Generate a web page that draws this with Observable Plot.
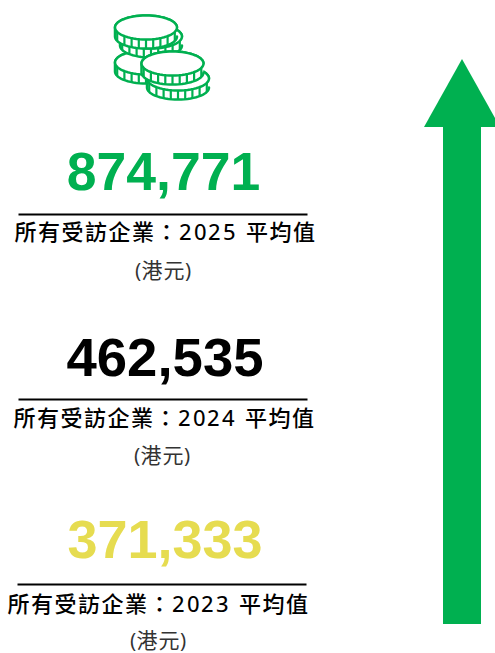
<!DOCTYPE html>
<html><head><meta charset="utf-8">
<script src="https://cdn.jsdelivr.net/npm/d3@7"></script>
<script src="https://cdn.jsdelivr.net/npm/@observablehq/plot@0.6"></script>
<style>html,body{margin:0;padding:0;background:#fff}svg{display:block}
@font-face{font-family:Digits;src:local("Open Sans");unicode-range:U+28-29,U+30-39,U+20}
@font-face{font-family:DigitsSemi;src:local("Open Sans SemiBold"),local("Open Sans Semibold"),local("OpenSans-SemiBold"),local("Open Sans Medium");unicode-range:U+30-39,U+20}</style>
</head><body><div id="c"></div><script>
const years = [2025, 2024, 2023];
const averages = [874771, 462535, 371333];
const yearColors = ["#00B050", "#000000", "#E6DC50"];
const labelPrefix = "所有受訪企業：";
const labelSuffix = " 平均值";
const unit = "(港元)";

// layout of the three panels, on a page-sized scale
const numY = [172, 358, 540], ruleY = [214, 399, 584], labelY = [232, 418, 604], unitY = [271, 456, 641];
const numX = [163, 164.5, 164.5], labelX = [165, 164, 158], unitX = [163, 162, 158];
const numSize = [53.5, 54.5, 54];
const ruleX1 = [18, 18, 17], ruleX2 = [307, 307, 306];
const idx = d3.range(years.length);

const green = "#00B050";
function coin(cx, cy, depth) {
  const rx = 31, ry = 12;
  const ang = d3.range(0, 361, 6).map(d => d * Math.PI / 180);
  const top = ang.map(a => ({x: cx + rx * Math.cos(a), y: cy + ry * Math.sin(a)}));
  const lower = d3.range(0, 181, 6).map(d => d * Math.PI / 180)
    .map(a => ({x: cx + rx * Math.cos(a), y: cy + depth + ry * Math.sin(a)}));
  const body = [...lower, ...top.filter((_, i) => i >= 30)];
  const ribs = d3.range(-4, 5).map(k => {
    const a = Math.acos(k * 7.2 / rx);
    const y = cy + ry * Math.sin(a);
    return {x: cx + rx * Math.cos(a), y1: y, y2: y + depth};
  });
  return [
    Plot.line(body, {x: "x", y: "y", fill: "white", stroke: green, strokeWidth: 2.5}),
    Plot.link(ribs, {x1: "x", x2: "x", y1: "y1", y2: "y2", stroke: green, strokeWidth: 2.2}),
    Plot.line(top, {x: "x", y: "y", fill: "white", stroke: green, strokeWidth: 2.5})
  ];
}
const spaced = (ls, ws) => function (index, scales, values, dims, ctx, next) {
  const g = next(index, scales, values, dims, ctx);
  g.style.letterSpacing = ls + "px";
  g.style.wordSpacing = ws + "px";
  return g;
};

const arrowHead = [{y: 59, a: 462, b: 462}, {y: 127, a: 424, b: 500}];

const chart = Plot.plot({
  width: 495, height: 653,
  margin: 0,
  x: {domain: [0, 495], range: [0, 495], axis: null},
  y: {domain: [0, 653], range: [0, 653], axis: null},
  style: {background: "#fff"},
  marks: [
    Plot.rect([0], {x1: 443, x2: 481, y1: 126, y2: 624, fill: green}),
    Plot.areaX(arrowHead, {x1: "a", x2: "b", y: "y", fill: green}),
    ...coin(145.5, 62, 9),
    ...coin(150.5, 36, 9),
    ...coin(145.5, 27, 9),
    ...coin(177.5, 78, 9),
    ...coin(172, 63, 9),
    ...idx.map(i => Plot.text([i], {x: numX[i], y: numY[i], text: () => d3.format(",")(averages[i]),
      fill: yearColors[i], fontFamily: "Liberation Sans", fontWeight: 700, fontSize: numSize[i], textAnchor: "middle"})),
    Plot.link(idx, {x1: i => ruleX1[i], x2: i => ruleX2[i], y1: i => ruleY[i], y2: i => ruleY[i], stroke: "#000", strokeWidth: 2}),
    Plot.text(idx, {render: spaced(1.5, 1.5), x: i => labelX[i], y: i => labelY[i], text: i => labelPrefix + years[i] + labelSuffix,
      fill: "#000", fontFamily: "DigitsSemi,'Noto Sans CJK TC'", fontWeight: 500, fontSize: 22, textAnchor: "middle"}),
    Plot.text(idx, {render: spaced(1, 0), x: i => unitX[i], y: i => unitY[i], text: () => unit,
      fill: "#333", fontFamily: "Digits,'Noto Sans CJK TC'", fontWeight: 400, fontSize: 21, textAnchor: "middle"})
  ]
});
document.getElementById("c").append(chart);
</script></body></html>
